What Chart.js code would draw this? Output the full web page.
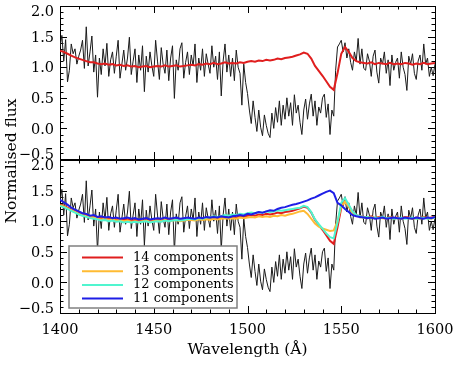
<!DOCTYPE html>
<html>
<head>
<meta charset="utf-8">
<script src="https://cdn.jsdelivr.net/npm/chart.js@4.4.1/dist/chart.umd.min.js"></script>
<style>
  html, body { margin: 0; padding: 0; background: #fff; }
  #wrap { position: relative; width: 458px; height: 366px; }
  #wrap canvas { position: absolute; left: 0; top: 0; }
</style>
</head>
<body>
<div id="wrap">
  <canvas id="bottomChart" width="458" height="366"></canvas>
  <canvas id="topChart" width="458" height="366"></canvas>
</div>
<script>
// observed spectrum, 1 A bins starting at 1400 A
const specStart = 1400, specStep = 1;
const flux = [
  1.33, 1.52, 1.10, 1.45, 0.76, 0.95, 1.38, 1.22, 1.30, 1.05,
  1.18, 1.28, 1.44, 0.98, 1.66, 1.02, 1.25, 1.51, 0.92, 1.20,
  0.51, 1.15, 0.88, 1.30, 1.02, 1.39, 0.85, 1.12, 1.25, 0.90,
  1.18, 1.44, 0.82, 1.05, 1.28, 0.95, 1.15, 1.49, 0.88, 1.10,
  1.30, 0.75, 1.20, 0.95, 1.35, 0.60, 1.18, 0.92, 1.25, 1.02,
  0.85, 1.44, 1.10, 0.80, 1.32, 1.05, 0.90, 1.28, 0.78, 1.15,
  1.35, 0.49, 1.12, 0.95, 1.30, 1.40, 0.82, 1.08, 1.25, 0.88,
  1.20, 1.02, 1.38, 0.75, 1.15, 0.95, 1.30, 0.85, 1.22, 1.05,
  0.90, 1.35, 1.00, 1.18, 0.80, 1.25, 0.53, 1.10, 1.38, 0.92,
  1.20, 0.85, 1.15, 0.78, 1.28, 1.00, 0.90, 0.38, 1.05, 0.75,
  0.57, 0.30, 0.08, 0.45, 0.18, -0.05, 0.30, 0.02, -0.12, 0.22,
  0.05, -0.08, -0.15, 0.25, 0.00, 0.34, 0.10, 0.45, 0.05, 0.38,
  0.15, 0.50, 0.20, 0.42, 0.05, 0.55, 0.25, 0.38, 0.10, -0.10,
  0.30, 0.48, 0.15, 0.40, 0.56, 0.20, 0.45, 0.05, 0.35, 0.25,
  0.50, 0.56, 0.18, 0.40, -0.10, 0.30, 0.20, 0.95, 1.33, 1.38,
  1.44, 1.25, 1.40, 1.15, 1.30, 1.08, 0.95, 1.25, 1.10, 1.47,
  1.05, 1.30, 0.98, 0.95, 1.22, 1.10, 0.85, 1.18, 1.28, 0.92,
  0.74, 1.15, 1.05, 1.25, 0.90, 1.12, 0.70, 1.20, 0.95, 1.08,
  1.15, 0.82, 1.25, 1.00, 0.88, 0.62, 1.18, 1.05, 1.22, 0.90,
  0.80, 1.10, 1.20, 0.95, 1.38, 1.05, 1.15, 0.85, 1.00, 0.86,
  1.05
];

// model fits, 2 A bins starting at 1400 A
const fitStart = 1400, fitStep = 2;
const fit14 = [
  1.27, 1.25, 1.22, 1.19, 1.16, 1.14, 1.12, 1.10, 1.08, 1.08,
  1.06, 1.05, 1.06, 1.04, 1.05, 1.03, 1.04, 1.02, 1.03, 1.01,
  1.02, 1.00, 1.01, 1.02, 1.00, 1.01, 1.02, 1.01, 1.03, 1.01,
  1.02, 1.03, 1.01, 1.02, 1.03, 1.04, 1.03, 1.05, 1.04, 1.06,
  1.05, 1.07, 1.05, 1.06, 1.08, 1.06, 1.07, 1.06, 1.08, 1.07,
  1.09, 1.10, 1.09, 1.11, 1.10, 1.12, 1.11, 1.12, 1.14, 1.13,
  1.15, 1.16, 1.17, 1.19, 1.21, 1.24, 1.22, 1.14, 1.02, 0.94,
  0.86, 0.77, 0.68, 0.63, 0.90, 1.22, 1.33, 1.25, 1.15, 1.10,
  1.08, 1.07, 1.06, 1.08, 1.05, 1.07, 1.06, 1.05, 1.07, 1.05,
  1.06, 1.05, 1.07, 1.06, 1.04, 1.06, 1.05, 1.07, 1.05, 1.06,
  1.07
];
const fit13 = [
  1.26, 1.24, 1.21, 1.18, 1.15, 1.12, 1.10, 1.08, 1.07, 1.06,
  1.04, 1.03, 1.04, 1.02, 1.03, 1.01, 1.02, 1.00, 1.01, 0.99,
  1.00, 0.99, 1.00, 1.01, 0.99, 1.00, 1.01, 1.00, 1.02, 1.00,
  1.01, 1.02, 1.00, 1.01, 1.02, 1.02, 1.01, 1.03, 1.02, 1.03,
  1.02, 1.04, 1.03, 1.04, 1.05, 1.04, 1.05, 1.04, 1.06, 1.05,
  1.06, 1.07, 1.06, 1.08, 1.07, 1.08, 1.07, 1.09, 1.08, 1.10,
  1.09, 1.11, 1.12, 1.14, 1.16, 1.17, 1.12, 1.04, 0.96, 0.91,
  0.88, 0.86, 0.84, 0.85, 1.00, 1.24, 1.32, 1.24, 1.14, 1.09,
  1.07, 1.06, 1.05, 1.07, 1.05, 1.06, 1.05, 1.04, 1.06, 1.05,
  1.05, 1.04, 1.06, 1.05, 1.04, 1.05, 1.04, 1.06, 1.05, 1.04,
  1.06
];
const fit12 = [
  1.25, 1.23, 1.20, 1.17, 1.14, 1.11, 1.09, 1.07, 1.05, 1.04,
  1.03, 1.01, 1.02, 1.00, 1.01, 0.99, 1.00, 0.98, 0.99, 0.98,
  0.99, 0.98, 0.99, 1.00, 0.98, 0.99, 1.00, 0.99, 1.01, 1.00,
  1.01, 1.02, 1.01, 1.02, 1.03, 1.04, 1.03, 1.05, 1.04, 1.06,
  1.06, 1.08, 1.07, 1.08, 1.10, 1.09, 1.11, 1.10, 1.12, 1.11,
  1.13, 1.14, 1.13, 1.15, 1.14, 1.16, 1.15, 1.16, 1.18, 1.17,
  1.18, 1.19, 1.20, 1.21, 1.22, 1.25, 1.23, 1.15, 1.03, 0.95,
  0.88, 0.80, 0.74, 0.72, 0.98, 1.30, 1.38, 1.27, 1.16, 1.10,
  1.08, 1.06, 1.07, 1.05, 1.06, 1.05, 1.07, 1.05, 1.06, 1.04,
  1.05, 1.06, 1.04, 1.05, 1.06, 1.04, 1.05, 1.06, 1.04, 1.05,
  1.06
];
const fit11 = [
  1.35, 1.31, 1.27, 1.22, 1.19, 1.16, 1.13, 1.12, 1.09, 1.10,
  1.07, 1.08, 1.06, 1.07, 1.05, 1.06, 1.04, 1.05, 1.06, 1.04,
  1.05, 1.03, 1.04, 1.05, 1.03, 1.04, 1.05, 1.04, 1.06, 1.04,
  1.05, 1.06, 1.04, 1.05, 1.06, 1.05, 1.04, 1.06, 1.05, 1.07,
  1.06, 1.07, 1.06, 1.08, 1.07, 1.06, 1.08, 1.09, 1.10, 1.09,
  1.12, 1.11, 1.13, 1.15, 1.14, 1.16, 1.18, 1.17, 1.20, 1.22,
  1.23, 1.25, 1.27, 1.28, 1.30, 1.32, 1.34, 1.37, 1.39, 1.42,
  1.45, 1.48, 1.50, 1.46, 1.30, 1.26, 1.20, 1.15, 1.10, 1.08,
  1.07, 1.06, 1.05, 1.06, 1.04, 1.05, 1.06, 1.04, 1.05, 1.06,
  1.05, 1.04, 1.06, 1.05, 1.04, 1.06, 1.05, 1.04, 1.06, 1.05,
  1.07
];

const fitLabels = ["14 components", "13 components", "12 components", "11 components"];
const fitColors = ["#e01e1e", "#ffbb33", "#50f5cf", "#1e1ee6"];

const xMin = 1400, xMax = 1600;
const yMin = -0.5, yMax = 2.0;
const yTickLabels = [-0.5, 0.0, 0.5, 1.0, 1.5, 2.0];

const FONT = "DejaVu Serif";

function toPoints(values, start, step) {
  return values.map((v, i) => ({ x: start + i * step, y: v }));
}

// IDL-style box with inward ticks on all four sides, plus y labels
const frameTicks = {
  id: "frameTicks",
  beforeDatasetsDraw(chart) {
    const { ctx, chartArea: a, scales } = chart;
    const xs = scales.x, ys = scales.y;
    ctx.save();
    ctx.strokeStyle = "#000";
    ctx.lineWidth = 1;
    ctx.beginPath();
    for (let w = xMin; w <= xMax; w += 10) {
      const px = Math.round(xs.getPixelForValue(w)) + 0.5;
      const len = (w % 50 === 0) ? 7 : 3.5;
      ctx.moveTo(px, a.bottom); ctx.lineTo(px, a.bottom - len);
      ctx.moveTo(px, a.top); ctx.lineTo(px, a.top + len);
    }
    for (let k = -5; k <= 20; k++) {
      const py = Math.round(ys.getPixelForValue(k / 10)) + 0.5;
      const len = (k % 5 === 0) ? 7 : 3.5;
      ctx.moveTo(a.left, py); ctx.lineTo(a.left + len, py);
      ctx.moveTo(a.right, py); ctx.lineTo(a.right - len, py);
    }
    ctx.stroke();
    ctx.strokeRect(Math.round(a.left) + 0.5, Math.round(a.top) + 0.5,
      Math.round(a.right - a.left), Math.round(a.bottom - a.top));

    // tick labels; end labels nudged inside the panel so they don't collide
    ctx.font = "14.5px '" + FONT + "'";
    ctx.fillStyle = "#000";
    ctx.textAlign = "right";
    ctx.textBaseline = "middle";
    yTickLabels.forEach((v) => {
      let dy = 1.5;
      if (v === yMax) dy = 6;
      if (v === yMin) dy = -3.5;
      const txt = v.toFixed(1).replace("-", "\u2212");
      ctx.fillText(txt, a.left - 6, ys.getPixelForValue(v) + dy);
    });
    ctx.restore();
  }
};

const yTitle = {
  id: "yTitle",
  afterDraw(chart) {
    const ctx = chart.ctx;
    ctx.save();
    ctx.translate(12, 161);
    ctx.rotate(-Math.PI / 2);
    ctx.font = "15.5px '" + FONT + "'";
    ctx.fillStyle = "#000";
    ctx.textAlign = "center";
    ctx.textBaseline = "middle";
    ctx.fillText("Normalised flux", 0, 0);
    ctx.restore();
  }
};

const boxLegend = {
  id: "boxLegend",
  afterDraw(chart) {
    const ctx = chart.ctx;
    ctx.save();
    ctx.fillStyle = "#fff";
    ctx.fillRect(69, 246, 168, 62);
    ctx.strokeStyle = "#808080";
    ctx.lineWidth = 1.5;
    ctx.strokeRect(69, 246, 168, 62);
    ctx.font = "13px '" + FONT + "'";
    ctx.textBaseline = "middle";
    ctx.fillStyle = "#000";
    fitLabels.forEach((lab, i) => {
      const y = 257.5 + i * 13.7;
      ctx.strokeStyle = fitColors[i];
      ctx.lineWidth = 2;
      ctx.beginPath();
      ctx.moveTo(82, y); ctx.lineTo(123, y);
      ctx.stroke();
      ctx.fillText(lab, 133, y);
    });
    ctx.restore();
  }
};

const specData = toPoints(flux, specStart, specStep);

function lineSet(label, data, color, width, order) {
  return { label, data, borderColor: color, borderWidth: width, pointRadius: 0, tension: 0, order };
}

function yAxis() {
  return {
    type: "linear", min: yMin, max: yMax,
    grid: { display: false, drawTicks: false },
    border: { display: false },
    ticks: { display: false, stepSize: 0.5 },
    afterFit(s) { s.width = 50; s.paddingTop = 0; s.paddingBottom = 0; }
  };
}

const commonOptions = {
  responsive: false,
  animation: false,
  events: [],
  plugins: { legend: { display: false }, tooltip: { enabled: false } }
};

// Top panel: data and 14-component fit
new Chart(document.getElementById("topChart"), {
  type: "line",
  data: {
    datasets: [
      lineSet("Data", specData, "#1a1a1a", 1, 10),
      lineSet(fitLabels[0], toPoints(fit14, fitStart, fitStep), fitColors[0], 2, 1)
    ]
  },
  options: {
    ...commonOptions,
    layout: { padding: { left: 10, right: 23, top: 6, bottom: 207 } },
    scales: {
      x: { type: "linear", min: xMin, max: xMax, display: false },
      y: yAxis()
    }
  },
  plugins: [frameTicks, yTitle]
});

// Bottom panel: data and the four fits
new Chart(document.getElementById("bottomChart"), {
  type: "line",
  data: {
    datasets: [
      lineSet("Data", specData, "#1a1a1a", 1, 10),
      lineSet(fitLabels[0], toPoints(fit14, fitStart, fitStep), fitColors[0], 2, 4),
      lineSet(fitLabels[1], toPoints(fit13, fitStart, fitStep), fitColors[1], 2, 3),
      lineSet(fitLabels[2], toPoints(fit12, fitStart, fitStep), fitColors[2], 2, 2),
      lineSet(fitLabels[3], toPoints(fit11, fitStart, fitStep), fitColors[3], 2, 1)
    ]
  },
  options: {
    ...commonOptions,
    layout: { padding: { left: 10, right: 23, top: 160, bottom: 0 } },
    scales: {
      x: {
        type: "linear", min: xMin, max: xMax,
        grid: { display: false, drawTicks: false },
        border: { display: false },
        ticks: {
          stepSize: 50, padding: 9, color: "#000", maxRotation: 0,
          font: { family: FONT, size: 14.5 },
          callback: (v) => String(v)
        },
        title: {
          display: true, text: "Wavelength (\u00C5)", color: "#000",
          font: { family: FONT, size: 15.5 },
          padding: { top: 0, bottom: 7 }
        },
        afterFit(s) { s.height = 53; s.paddingLeft = 0; s.paddingRight = 0; }
      },
      y: yAxis()
    }
  },
  plugins: [frameTicks, boxLegend]
});
</script>
</body>
</html>
